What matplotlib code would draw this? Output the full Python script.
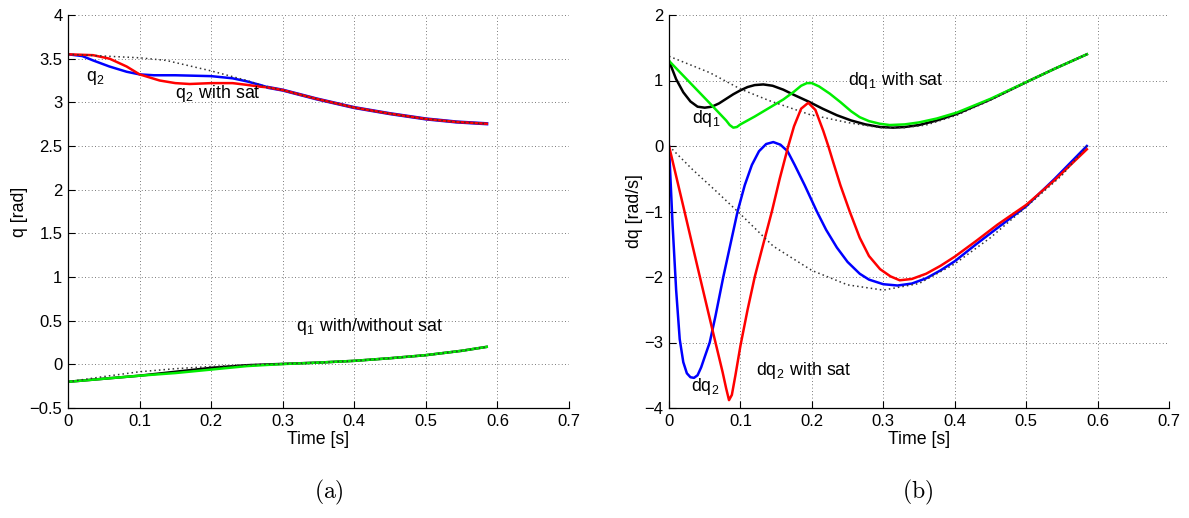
import matplotlib
matplotlib.use("Agg")
import matplotlib.pyplot as plt

plt.rcParams['font.family'] = ['Liberation Sans', 'DejaVu Sans']
plt.rcParams['mathtext.fontset'] = 'cm'
plt.rcParams['axes.unicode_minus'] = True

# ---------------- data: panel (a) joint positions ----------------
t_q2_blue = [0, 0.02, 0.035, 0.058, 0.082, 0.1, 0.12, 0.15, 0.2, 0.23, 0.25, 0.268, 0.28]
q2_blue = [3.55, 3.53, 3.48, 3.41, 3.35, 3.32, 3.31, 3.31, 3.30, 3.275, 3.24, 3.20, 3.17]

t_q2_red = [0, 0.035, 0.058, 0.082, 0.1, 0.128, 0.15, 0.17, 0.2, 0.23, 0.25, 0.268, 0.28]
q2_red = [3.55, 3.54, 3.50, 3.41, 3.32, 3.25, 3.22, 3.21, 3.22, 3.22, 3.20, 3.18, 3.17]

t_q2_ref = [0, 0.05, 0.1, 0.137, 0.2, 0.25, 0.28]
q2_ref = [3.55, 3.53, 3.51, 3.48, 3.36, 3.25, 3.17]

t_q2_common = [0.28, 0.3, 0.347, 0.4, 0.45, 0.5, 0.543, 0.585]
q2_common = [3.17, 3.14, 3.04, 2.94, 2.87, 2.81, 2.775, 2.755]

t_q1 = [0, 0.05, 0.1, 0.15, 0.2, 0.25, 0.3, 0.35, 0.4, 0.45, 0.5, 0.55, 0.585]
q1_black = [-0.2, -0.165, -0.13, -0.085, -0.04, -0.01, 0.005, 0.02, 0.04, 0.07, 0.105, 0.155, 0.2]
q1_green = [-0.2, -0.165, -0.13, -0.10, -0.06, -0.02, 0.003, 0.02, 0.04, 0.07, 0.105, 0.155, 0.2]
q1_ref = [-0.2, -0.14, -0.085, -0.05, -0.025, -0.005, 0.005, 0.02, 0.04, 0.07, 0.105, 0.155, 0.2]

# ---------------- data: panel (b) joint velocities ----------------
t_dq1_black = [0, 0.01, 0.02, 0.03, 0.04, 0.05, 0.06, 0.07, 0.08, 0.09, 0.1, 0.11, 0.12,
               0.132, 0.145, 0.16, 0.175, 0.195, 0.215, 0.235, 0.255, 0.275, 0.2955,
               0.314, 0.33, 0.35, 0.375, 0.403, 0.45, 0.505, 0.54, 0.585]
dq1_black = [1.30, 1.02, 0.82, 0.68, 0.60, 0.585, 0.60, 0.65, 0.72, 0.79, 0.85, 0.90, 0.93,
             0.94, 0.92, 0.86, 0.78, 0.68, 0.57, 0.47, 0.39, 0.33, 0.29,
             0.28, 0.29, 0.32, 0.39, 0.49, 0.71, 1.0, 1.18, 1.40]

t_dq1_green = [0, 0.03, 0.06, 0.08, 0.085, 0.09, 0.095, 0.1, 0.12, 0.14, 0.16, 0.175, 0.185,
               0.193, 0.2, 0.21, 0.225, 0.24, 0.255, 0.267, 0.28, 0.295, 0.309, 0.33,
               0.35, 0.375, 0.403, 0.45, 0.505, 0.54, 0.585]
dq1_green = [1.30, 0.96, 0.62, 0.39, 0.32, 0.28, 0.29, 0.33, 0.45, 0.58, 0.71, 0.83, 0.92,
             0.96, 0.96, 0.91, 0.80, 0.67, 0.53, 0.44, 0.38, 0.34, 0.32, 0.33,
             0.36, 0.42, 0.51, 0.72, 1.0, 1.18, 1.40]

t_dq1_ref = [0, 0.057, 0.1, 0.141, 0.197, 0.249, 0.295, 0.33, 0.36, 0.403, 0.45, 0.505, 0.54, 0.585]
dq1_ref = [1.37, 1.12, 0.87, 0.69, 0.48, 0.36, 0.28, 0.28, 0.32, 0.47, 0.70, 1.0, 1.18, 1.40]

t_dq2_blue = [0, 0.005, 0.01, 0.015, 0.02, 0.025, 0.03, 0.035, 0.04, 0.045, 0.05, 0.057,
              0.065, 0.076, 0.086, 0.096, 0.106, 0.116, 0.126, 0.136, 0.146, 0.156, 0.166,
              0.176, 0.19, 0.207, 0.22, 0.235, 0.25, 0.267, 0.28, 0.3, 0.32, 0.34, 0.36,
              0.38, 0.4, 0.43, 0.46, 0.5, 0.54, 0.585]
dq2_blue = [0, -1.2, -2.2, -2.95, -3.3, -3.47, -3.53, -3.54, -3.5, -3.38, -3.22, -3.0,
            -2.6, -2.0, -1.5, -1.0, -0.6, -0.29, -0.08, 0.03, 0.06, 0.02, -0.08,
            -0.29, -0.6, -1.0, -1.28, -1.55, -1.77, -1.95, -2.04, -2.11, -2.13, -2.1, -2.02,
            -1.9, -1.76, -1.5, -1.25, -0.92, -0.5, 0.0]

t_dq2_red = [0, 0.02, 0.04, 0.06, 0.075, 0.08, 0.084, 0.088, 0.093, 0.1, 0.11, 0.12, 0.13,
             0.144, 0.155, 0.167, 0.175, 0.185, 0.195, 0.205, 0.216, 0.223, 0.23, 0.24,
             0.253, 0.267, 0.28, 0.2955, 0.31, 0.323, 0.34, 0.36, 0.38, 0.4, 0.43, 0.46,
             0.5, 0.54, 0.585]
dq2_red = [0, -0.92, -1.85, -2.77, -3.45, -3.7, -3.88, -3.8, -3.5, -3.05, -2.5, -2.0, -1.58,
           -1.0, -0.5, 0.0, 0.3, 0.57, 0.66, 0.55, 0.23, 0.0, -0.25, -0.6,
           -1.0, -1.4, -1.68, -1.88, -1.99, -2.05, -2.03, -1.95, -1.83, -1.69, -1.45, -1.2,
           -0.9, -0.52, -0.05]

t_dq2_ref = [0, 0.033, 0.066, 0.1, 0.146, 0.2, 0.25, 0.3, 0.35, 0.4, 0.45, 0.5, 0.55, 0.585]
dq2_ref = [0, -0.36, -0.69, -1.04, -1.53, -1.9, -2.12, -2.2, -2.1, -1.8, -1.4, -0.93, -0.45, 0.0]

xticks = [0, 0.1, 0.2, 0.3, 0.4, 0.5, 0.6, 0.7]
xticklabels = ['0', '0.1', '0.2', '0.3', '0.4', '0.5', '0.6', '0.7']
yticks_a = [-0.5, 0, 0.5, 1, 1.5, 2, 2.5, 3, 3.5, 4]
yticklabels_a = ['\u22120.5', '0', '0.5', '1', '1.5', '2', '2.5', '3', '3.5', '4']
yticks_b = [-4, -3, -2, -1, 0, 1, 2]
yticklabels_b = ['\u22124', '\u22123', '\u22122', '\u22121', '0', '1', '2']

# ---------------- figure ----------------
fig = plt.figure(figsize=(11.89, 5.18), dpi=100)
W, H = 1189.0, 518.0
ax_a = fig.add_axes([68 / W, (H - 408) / H, 501 / W, 393 / H])
ax_b = fig.add_axes([669 / W, (H - 408) / H, 500 / W, 393 / H])

LW = 1.8
REF = dict(color='0.2', linestyle=(0, (1, 2)), linewidth=1.1)
FS_TICK = 12
FS_TXT = 12.8


def style(ax, yticks, yticklabels, ylim, ylabel):
    ax.set_xlim(0, 0.7)
    ax.set_ylim(*ylim)
    ax.set_xticks(xticks)
    ax.set_xticklabels(xticklabels)
    ax.set_yticks(yticks)
    ax.set_yticklabels(yticklabels)
    for s in ['top', 'right']:
        ax.spines[s].set_visible(False)
    for s in ['left', 'bottom']:
        ax.spines[s].set_linewidth(0.9)
        ax.spines[s].set_zorder(5)
    ax.tick_params(direction='in', length=5, width=0.8, labelsize=FS_TICK, pad=4)
    ax.grid(True, color='0.3', linestyle=(0, (1, 3)), linewidth=0.6)
    ax.set_axisbelow(True)
    ax.set_xlabel('Time [s]', fontsize=FS_TXT, labelpad=1.5)
    ax.set_ylabel(ylabel, fontsize=FS_TXT, labelpad=1)


# panel (a)
ax_a.plot(t_q2_blue, q2_blue, color='blue', lw=LW)
ax_a.plot(t_q2_red, q2_red, color='red', lw=LW)
ax_a.plot(t_q2_common, q2_common, color='blue', lw=LW + 0.6)
ax_a.plot(t_q2_common, q2_common, color='red', lw=LW)
ax_a.plot(t_q2_ref + t_q2_common[1:], q2_ref + q2_common[1:], **REF)
ax_a.plot(t_q1, q1_black, color='black', lw=LW)
ax_a.plot(t_q1, q1_green, color='#00ee00', lw=LW)
ax_a.plot(t_q1, q1_ref, **REF)
style(ax_a, yticks_a, yticklabels_a, (-0.5, 4), 'q [rad]')
ax_a.text(0.025, 3.245, r'q$_\mathregular{2}$', fontsize=FS_TXT, ha='left', va='baseline')
ax_a.text(0.149, 3.05, r'q$_\mathregular{2}$ with sat', fontsize=FS_TXT, ha='left', va='baseline')
ax_a.text(0.318, 0.382, r'q$_\mathregular{1}$ with/without sat', fontsize=FS_TXT, ha='left', va='baseline')

# panel (b)
ax_b.plot(t_dq1_black, dq1_black, color='black', lw=LW)
ax_b.plot(t_dq1_green, dq1_green, color='#00ee00', lw=LW)
ax_b.plot(t_dq1_ref, dq1_ref, **REF)
ax_b.plot(t_dq2_blue, dq2_blue, color='blue', lw=LW)
ax_b.plot(t_dq2_red, dq2_red, color='red', lw=LW)
ax_b.plot(t_dq2_ref, dq2_ref, **REF)
style(ax_b, yticks_b, yticklabels_b, (-4, 2), 'dq [rad/s]')
ax_b.text(0.251, 0.93, r'dq$_\mathregular{1}$ with sat', fontsize=FS_TXT, ha='left', va='baseline')
ax_b.text(0.032, 0.356, r'dq$_\mathregular{1}$', fontsize=FS_TXT, ha='left', va='baseline')
ax_b.text(0.031, -3.74, r'dq$_\mathregular{2}$', fontsize=FS_TXT, ha='left', va='baseline')
ax_b.text(0.122, -3.49, r'dq$_\mathregular{2}$ with sat', fontsize=FS_TXT, ha='left', va='baseline')

# sub-captions
fig.text(329 / W, 1 - 492 / H, r'$\mathrm{(a)}$', fontsize=17, ha='center', va='center')
fig.text(918 / W, 1 - 492 / H, r'$\mathrm{(b)}$', fontsize=17, ha='center', va='center')

fig.savefig('out.png', dpi=100)
